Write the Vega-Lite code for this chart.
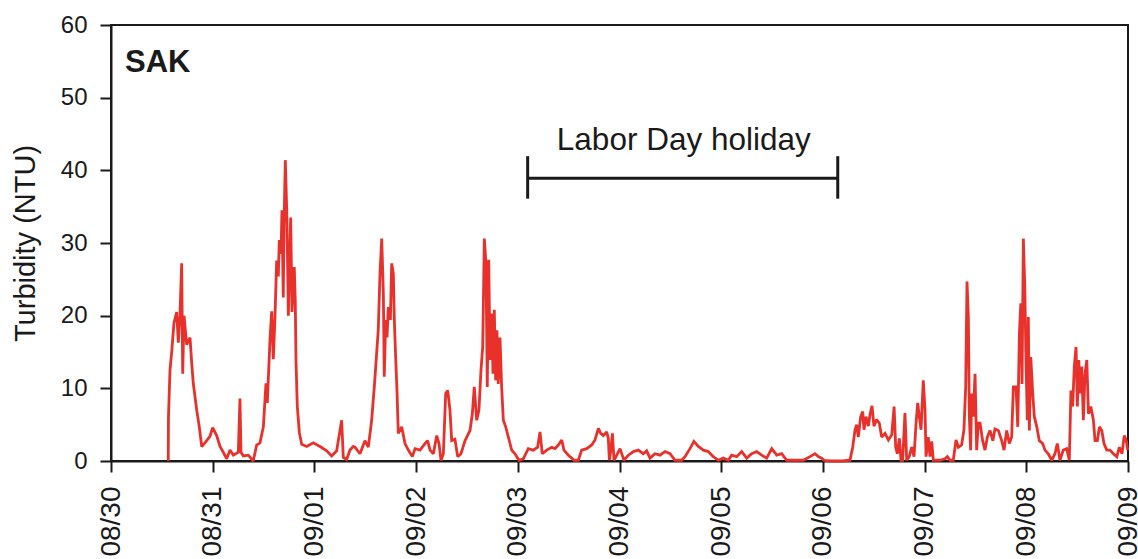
{
 "$schema": "https://vega.github.io/schema/vega-lite/v6.json",
 "width": 1017, "height": 436,
 "autosize": {"type": "none"},
 "padding": {"left": 111, "top": 25, "right": 10, "bottom": 98},
 "background": "white",
 "config": {
  "font": "Liberation Sans",
  "view": {"stroke": "#1a1a1a", "strokeWidth": 2},
  "axis": {"grid": false, "domainColor": "#1a1a1a", "domainWidth": 2, "tickColor": "#1a1a1a", "tickWidth": 2, "tickSize": 11, "labelColor": "#1a1a1a", "titleColor": "#1a1a1a", "labelFont": "Liberation Sans", "titleFont": "Liberation Sans", "titleFontWeight": "normal"}
 },
 "layer": [
  {
   "data": {"values": [
    {"day":0.563,"ntu":0},{"day":0.565,"ntu":6},{"day":0.58,"ntu":12.5},{"day":0.597,"ntu":15},{"day":0.619,"ntu":19},{"day":0.646,"ntu":20.5},{"day":0.662,"ntu":16.3},{"day":0.678,"ntu":20},{"day":0.695,"ntu":27.2},{"day":0.705,"ntu":12},{"day":0.718,"ntu":20},{"day":0.744,"ntu":16},{"day":0.777,"ntu":17},{"day":0.793,"ntu":13.6},{"day":0.809,"ntu":10.7},{"day":0.843,"ntu":7},{"day":0.868,"ntu":4.7},{"day":0.892,"ntu":2},{"day":0.924,"ntu":2.5},{"day":0.973,"ntu":3.4},{"day":1.0,"ntu":4.6},{"day":1.039,"ntu":3.5},{"day":1.072,"ntu":2},{"day":1.104,"ntu":1.2},{"day":1.138,"ntu":0.3},{"day":1.17,"ntu":1.5},{"day":1.203,"ntu":0.8},{"day":1.252,"ntu":1.2},{"day":1.268,"ntu":8.6},{"day":1.278,"ntu":1.2},{"day":1.301,"ntu":0.7},{"day":1.35,"ntu":0.8},{"day":1.399,"ntu":0},{"day":1.432,"ntu":2.2},{"day":1.465,"ntu":2.5},{"day":1.498,"ntu":4.7},{"day":1.524,"ntu":10.7},{"day":1.537,"ntu":8},{"day":1.563,"ntu":16.6},{"day":1.58,"ntu":20.6},{"day":1.596,"ntu":14},{"day":1.613,"ntu":20},{"day":1.629,"ntu":27.6},{"day":1.645,"ntu":25.4},{"day":1.655,"ntu":30.4},{"day":1.672,"ntu":28.5},{"day":1.681,"ntu":34.5},{"day":1.694,"ntu":22.5},{"day":1.701,"ntu":32.3},{"day":1.714,"ntu":41.4},{"day":1.728,"ntu":34.5},{"day":1.737,"ntu":26.7},{"day":1.744,"ntu":20},{"day":1.753,"ntu":26},{"day":1.767,"ntu":33.5},{"day":1.78,"ntu":20.5},{"day":1.793,"ntu":24},{"day":1.802,"ntu":26.7},{"day":1.812,"ntu":22},{"day":1.819,"ntu":13.8},{"day":1.832,"ntu":7.5},{"day":1.852,"ntu":3.9},{"day":1.875,"ntu":2.3},{"day":1.924,"ntu":2},{"day":1.989,"ntu":2.5},{"day":2.055,"ntu":2},{"day":2.121,"ntu":1.4},{"day":2.17,"ntu":0.7},{"day":2.219,"ntu":1.4},{"day":2.268,"ntu":5.6},{"day":2.284,"ntu":0.5},{"day":2.317,"ntu":0.2},{"day":2.35,"ntu":1.5},{"day":2.382,"ntu":2},
    {"day":2.399,"ntu":1.9},{"day":2.448,"ntu":1.0},{"day":2.497,"ntu":2.8},{"day":2.53,"ntu":1.9},{"day":2.563,"ntu":5.6},{"day":2.589,"ntu":10.2},{"day":2.612,"ntu":14.8},{"day":2.628,"ntu":18},{"day":2.645,"ntu":25.8},{"day":2.662,"ntu":30.6},{"day":2.678,"ntu":23},{"day":2.687,"ntu":11.6},{"day":2.701,"ntu":19.4},{"day":2.714,"ntu":17},{"day":2.727,"ntu":21.2},{"day":2.747,"ntu":19.4},{"day":2.76,"ntu":27.2},{"day":2.776,"ntu":25.8},{"day":2.786,"ntu":19.4},{"day":2.8,"ntu":13.9},{"day":2.812,"ntu":9.7},{"day":2.825,"ntu":3.8},{"day":2.858,"ntu":4.7},{"day":2.891,"ntu":2.4},{"day":2.924,"ntu":1.5},{"day":2.963,"ntu":0.6},{"day":2.99,"ntu":1.7},{"day":3.038,"ntu":1.5},{"day":3.087,"ntu":2.4},{"day":3.113,"ntu":2.8},{"day":3.137,"ntu":1.5},{"day":3.17,"ntu":1.0},{"day":3.203,"ntu":3.5},{"day":3.225,"ntu":2.4},{"day":3.245,"ntu":0.1},{"day":3.268,"ntu":1.0},{"day":3.291,"ntu":9.3},{"day":3.311,"ntu":9.7},{"day":3.333,"ntu":7},{"day":3.35,"ntu":2.8},{"day":3.382,"ntu":3},{"day":3.409,"ntu":0.6},{"day":3.441,"ntu":1.0},{"day":3.481,"ntu":2.8},{"day":3.53,"ntu":4.2},{"day":3.553,"ntu":6.5},{"day":3.572,"ntu":10.2},{"day":3.596,"ntu":5.6},{"day":3.618,"ntu":7},{"day":3.638,"ntu":12.5},{"day":3.655,"ntu":15.7},{"day":3.671,"ntu":30.6},{"day":3.687,"ntu":27.2},{"day":3.7,"ntu":10.2},{"day":3.714,"ntu":27.7},{"day":3.727,"ntu":13.9},{"day":3.743,"ntu":20.3},{"day":3.756,"ntu":12},{"day":3.769,"ntu":20.8},{"day":3.782,"ntu":11.1},{"day":3.795,"ntu":18},{"day":3.808,"ntu":10.6},{"day":3.825,"ntu":17},{"day":3.841,"ntu":10.2},{"day":3.858,"ntu":5.6},{"day":3.881,"ntu":4.7},{"day":3.907,"ntu":3.3},{"day":3.94,"ntu":1.5},{"day":3.972,"ntu":1.0},{"day":4.012,"ntu":0.1},{"day":4.054,"ntu":0.3},{"day":4.103,"ntu":1.7},{"day":4.153,"ntu":1.5},{"day":4.195,"ntu":1.9},{"day":4.218,"ntu":4.0},{"day":4.241,"ntu":1.0},{"day":4.284,"ntu":1.5},{"day":4.333,"ntu":1.9},
    {"day":4.366,"ntu":1.7},{"day":4.398,"ntu":2.2},{"day":4.432,"ntu":2.9},{"day":4.454,"ntu":1.5},{"day":4.497,"ntu":0.8},{"day":4.53,"ntu":0.4},{"day":4.553,"ntu":0.1},{"day":4.595,"ntu":0.1},{"day":4.628,"ntu":1.5},{"day":4.677,"ntu":1.7},{"day":4.727,"ntu":2.2},{"day":4.759,"ntu":2.9},{"day":4.792,"ntu":4.5},{"day":4.815,"ntu":3.8},{"day":4.841,"ntu":3.5},{"day":4.874,"ntu":4.0},{"day":4.89,"ntu":3.1},{"day":4.9,"ntu":0.1},{"day":4.913,"ntu":1.3},{"day":4.93,"ntu":3.8},{"day":4.946,"ntu":0.1},{"day":4.973,"ntu":0.8},{"day":5.005,"ntu":1.7},{"day":5.044,"ntu":0.1},{"day":5.087,"ntu":0.8},{"day":5.136,"ntu":1.3},{"day":5.185,"ntu":1.5},{"day":5.234,"ntu":1.0},{"day":5.267,"ntu":1.4},{"day":5.3,"ntu":0.4},{"day":5.349,"ntu":1.0},{"day":5.398,"ntu":0.8},{"day":5.447,"ntu":1.3},{"day":5.497,"ntu":1.0},{"day":5.546,"ntu":0.1},{"day":5.611,"ntu":0.1},{"day":5.644,"ntu":0.6},{"day":5.693,"ntu":1.7},{"day":5.732,"ntu":2.7},{"day":5.775,"ntu":2.0},{"day":5.824,"ntu":1.5},{"day":5.873,"ntu":1.3},{"day":5.922,"ntu":0.6},{"day":5.972,"ntu":0.1},{"day":6.021,"ntu":0.4},{"day":6.07,"ntu":0.1},{"day":6.103,"ntu":0.8},{"day":6.152,"ntu":0.6},{"day":6.202,"ntu":1.3},{"day":6.251,"ntu":0.4},{"day":6.3,"ntu":1.0},{"day":6.349,"ntu":1.3},{"day":6.398,"ntu":0.8},{"day":6.447,"ntu":0.4},{"day":6.497,"ntu":1.7},{"day":6.546,"ntu":0.8},{"day":6.595,"ntu":1.0},{"day":6.644,"ntu":0.1},{"day":6.709,"ntu":0.1},{"day":6.808,"ntu":0.1},{"day":6.873,"ntu":0.6},{"day":6.922,"ntu":1.0},{"day":6.955,"ntu":0.6},{"day":6.988,"ntu":0.4},{"day":7.011,"ntu":0.1},{"day":7.07,"ntu":0},{"day":7.2,"ntu":0},{"day":7.25,"ntu":0.1},
    {"day":7.266,"ntu":0.1},{"day":7.293,"ntu":1.9},{"day":7.316,"ntu":4.3},{"day":7.332,"ntu":5.0},{"day":7.348,"ntu":3.3},{"day":7.372,"ntu":6.1},{"day":7.391,"ntu":6.8},{"day":7.404,"ntu":4.3},{"day":7.424,"ntu":6.1},{"day":7.447,"ntu":4.8},{"day":7.463,"ntu":6.4},{"day":7.483,"ntu":7.6},{"day":7.502,"ntu":4.8},{"day":7.529,"ntu":5.7},{"day":7.555,"ntu":5.2},{"day":7.578,"ntu":3.3},{"day":7.611,"ntu":3.8},{"day":7.644,"ntu":2.9},{"day":7.677,"ntu":3.6},{"day":7.7,"ntu":7.5},{"day":7.716,"ntu":1.9},{"day":7.732,"ntu":1.0},{"day":7.752,"ntu":3.1},{"day":7.768,"ntu":0.1},{"day":7.784,"ntu":0.1},{"day":7.807,"ntu":6.6},{"day":7.824,"ntu":0.1},{"day":7.849,"ntu":0.6},{"day":7.873,"ntu":1.9},{"day":7.896,"ntu":0.6},{"day":7.916,"ntu":5.2},{"day":7.932,"ntu":8.0},{"day":7.948,"ntu":6.1},{"day":7.965,"ntu":4.3},{"day":7.987,"ntu":11.1},{"day":8.004,"ntu":7.0},{"day":8.014,"ntu":0.6},{"day":8.036,"ntu":3.3},{"day":8.053,"ntu":0.6},{"day":8.07,"ntu":2.7},{"day":8.086,"ntu":0.1},{"day":8.151,"ntu":0.1},{"day":8.201,"ntu":0.3},{"day":8.224,"ntu":0.6},{"day":8.25,"ntu":0.1},{"day":8.282,"ntu":0.1},{"day":8.309,"ntu":2.9},{"day":8.332,"ntu":1.9},{"day":8.364,"ntu":2.2},{"day":8.387,"ntu":4.3},{"day":8.404,"ntu":10.2},{"day":8.417,"ntu":24.7},{"day":8.43,"ntu":19.9},{"day":8.44,"ntu":6.1},{"day":8.453,"ntu":1.5},{"day":8.463,"ntu":9.3},{"day":8.479,"ntu":6.1},{"day":8.496,"ntu":12},{"day":8.512,"ntu":1.5},{"day":8.528,"ntu":5.2},
    {"day":8.545,"ntu":5.2},{"day":8.571,"ntu":2.8},{"day":8.594,"ntu":1.5},{"day":8.617,"ntu":3.3},{"day":8.643,"ntu":4.2},{"day":8.671,"ntu":2.8},{"day":8.692,"ntu":4.4},{"day":8.725,"ntu":4.2},{"day":8.758,"ntu":2.8},{"day":8.781,"ntu":1.5},{"day":8.807,"ntu":4.2},{"day":8.833,"ntu":2.4},{"day":8.856,"ntu":3.3},{"day":8.873,"ntu":10.2},{"day":8.899,"ntu":10.2},{"day":8.916,"ntu":4.7},{"day":8.932,"ntu":17.5},{"day":8.946,"ntu":21.7},{"day":8.958,"ntu":10.6},{"day":8.971,"ntu":30.6},{"day":8.985,"ntu":24},{"day":8.997,"ntu":13.9},{"day":9.01,"ntu":5.6},{"day":9.02,"ntu":19.8},{"day":9.03,"ntu":4.2},{"day":9.044,"ntu":14.3},{"day":9.063,"ntu":9.3},{"day":9.079,"ntu":6.1},{"day":9.103,"ntu":4.7},{"day":9.128,"ntu":2.8},{"day":9.161,"ntu":2.4},{"day":9.184,"ntu":1.5},{"day":9.216,"ntu":1.0},{"day":9.25,"ntu":0.1},{"day":9.282,"ntu":1.0},{"day":9.305,"ntu":2.4},{"day":9.331,"ntu":0.1},{"day":9.364,"ntu":1.5},{"day":9.397,"ntu":1.7},{"day":9.423,"ntu":0.1},{"day":9.439,"ntu":9.7},{"day":9.456,"ntu":7.5},{"day":9.472,"ntu":13},{"day":9.489,"ntu":15.7},{"day":9.502,"ntu":7.5},{"day":9.516,"ntu":13.9},{"day":9.528,"ntu":9.3},{"day":9.545,"ntu":13},{"day":9.561,"ntu":5.6},{"day":9.577,"ntu":12},{"day":9.595,"ntu":13.9},{"day":9.611,"ntu":6.5},{"day":9.634,"ntu":7.5},{"day":9.66,"ntu":5.6},{"day":9.676,"ntu":2.8},{"day":9.699,"ntu":2.8},{"day":9.719,"ntu":4.7},{"day":9.742,"ntu":4.2},{"day":9.764,"ntu":2.4},{"day":9.791,"ntu":1.5},{"day":9.823,"ntu":1.5},{"day":9.856,"ntu":1.0},{"day":9.89,"ntu":0.6},{"day":9.915,"ntu":1.9},{"day":9.941,"ntu":1.0},{"day":9.963,"ntu":3.5},{"day":9.983,"ntu":2.8},{"day":9.997,"ntu":1.5}
   ]},
   "mark": {"type": "line", "color": "#e8312b", "strokeWidth": 2.8, "strokeJoin": "miter", "strokeMiterLimit": 2},
   "encoding": {
    "x": {"field": "day", "type": "quantitative",
      "scale": {"domain": [0, 10], "nice": false, "zero": false},
      "axis": {"title": null, "values": [0,1,2,3,4,5,6,7,8,9,10],
        "labelExpr": "timeFormat(datetime(2010, 7, 30 + datum.value), '%m/%d')",
        "labelAngle": -90, "labelFontSize": 28, "labelPadding": 14, "labelOverlap": false, "labelBound": false, "labelFlush": false}},
    "y": {"field": "ntu", "type": "quantitative",
      "scale": {"domain": [0, 60], "nice": false},
      "axis": {"title": "Turbidity (NTU)", "values": [0,10,20,30,40,50,60], "labelFontSize": 24, "labelPadding": 13, "titleFontSize": 29, "titlePadding": 20, "labelOverlap": false, "labelFlush": false}}
   }
  },
  {
   "data": {"values": [{}]},
   "mark": {"type": "text", "text": "SAK", "fontSize": 31, "fontWeight": "bold", "align": "left", "baseline": "alphabetic", "color": "#1a1a1a"},
   "encoding": {"x": {"datum": 0.138, "type": "quantitative"}, "y": {"datum": 53.5, "type": "quantitative"}}
  },
  {
   "data": {"values": [{}]},
   "mark": {"type": "text", "text": "Labor Day holiday", "fontSize": 31.5, "align": "center", "baseline": "alphabetic", "color": "#1a1a1a"},
   "encoding": {"x": {"datum": 5.632, "type": "quantitative"}, "y": {"datum": 42.8, "type": "quantitative"}}
  },
  {
   "data": {"values": [{}]},
   "mark": {"type": "rule", "color": "#1a1a1a", "strokeWidth": 3},
   "encoding": {"x": {"datum": 4.097, "type": "quantitative"}, "x2": {"datum": 7.146}, "y": {"datum": 38.9, "type": "quantitative"}}
  },
  {
   "data": {"values": [{}]},
   "mark": {"type": "rule", "color": "#1a1a1a", "strokeWidth": 3},
   "encoding": {"x": {"datum": 4.097, "type": "quantitative"}, "y": {"datum": 36.1, "type": "quantitative"}, "y2": {"datum": 41.95}}
  },
  {
   "data": {"values": [{}]},
   "mark": {"type": "rule", "color": "#1a1a1a", "strokeWidth": 3},
   "encoding": {"x": {"datum": 7.146, "type": "quantitative"}, "y": {"datum": 36.1, "type": "quantitative"}, "y2": {"datum": 41.95}}
  }
 ]
}
